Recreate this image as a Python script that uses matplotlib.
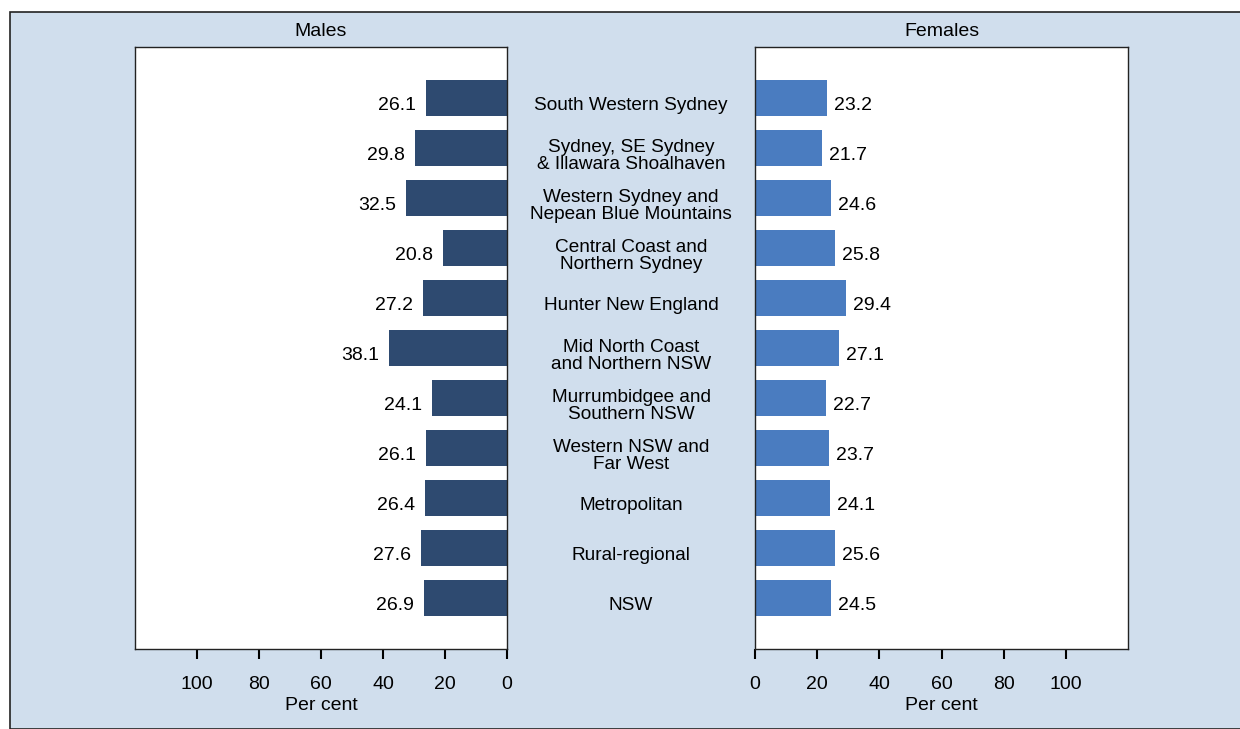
import matplotlib.pyplot as plt
from matplotlib.patches import Rectangle

# Data
regions = ['South Western Sydney', 'Sydney, SE Sydney\n& Illawara Shoalhaven',
           'Western Sydney and\nNepean Blue Mountains', 'Central Coast and\nNorthern Sydney',
           'Hunter New England', 'Mid North Coast\nand Northern NSW',
           'Murrumbidgee and\nSouthern NSW', 'Western NSW and\nFar West',
           'Metropolitan', 'Rural-regional', 'NSW']
males = [26.1, 29.8, 32.5, 20.8, 27.2, 38.1, 24.1, 26.1, 26.4, 27.6, 26.9]
females = [23.2, 21.7, 24.6, 25.8, 29.4, 27.1, 22.7, 23.7, 24.1, 25.6, 24.5]
ticks = [0, 20, 40, 60, 80, 100]

bg = '#d0deed'
male_col = '#2e4a70'
female_col = '#4a7cc0'

plt.rcParams['font.family'] = ['Liberation Sans', 'DejaVu Sans']
plt.rcParams['font.size'] = 14

fig = plt.figure(figsize=(12.4, 7.29), dpi=100, facecolor='white')
fig.patches.append(Rectangle((10 / 1240, 0), 1.0, 1 - 12 / 729, transform=fig.transFigure,
                             facecolor=bg, edgecolor='#222222', linewidth=1.2, zorder=-10))

axL = fig.add_axes([135 / 1240, 1 - 649 / 729, 372 / 1240, 602 / 729])
axR = fig.add_axes([755 / 1240, 1 - 649 / 729, 373 / 1240, 602 / 729])

y = list(range(len(regions)))

for ax, vals, col, title in [(axL, males, male_col, 'Males'), (axR, females, female_col, 'Females')]:
    ax.barh(y, vals, height=0.72, color=col)
    ax.set_ylim(len(regions) - 1 + 1.02, -1.02)
    ax.set_xlim(0, 120)
    ax.set_yticks([])
    ax.set_xticks(ticks)
    ax.tick_params(axis='x', direction='out', length=7, width=1.5, pad=12.5, labelsize=14)
    ax.set_xlabel('Per cent', fontsize=14, labelpad=3)
    ax.set_title(title, fontsize=14, pad=8)
    for s in ax.spines.values():
        s.set_linewidth(1.0)
        s.set_color('#222222')
    for yi, v in zip(y, vals):
        if ax is axL:
            ax.annotate(f'{v:.1f}', xy=(v, yi), xytext=(-10, -7), textcoords='offset pixels',
                        ha='right', va='center', fontsize=14)
        else:
            ax.annotate(f'{v:.1f}', xy=(v, yi), xytext=(7, -7), textcoords='offset pixels',
                        ha='left', va='center', fontsize=14)

axL.invert_xaxis()

# Region labels in the gap between the two panels
for yi, name in zip(y, regions):
    axL.annotate(name, xy=(0, yi), xycoords='data', xytext=(124, -8), textcoords='offset pixels',
                 ha='center', va='center', fontsize=13.7, linespacing=1.0, annotation_clip=False)

fig.savefig('out.png', dpi=100, facecolor=fig.get_facecolor())
